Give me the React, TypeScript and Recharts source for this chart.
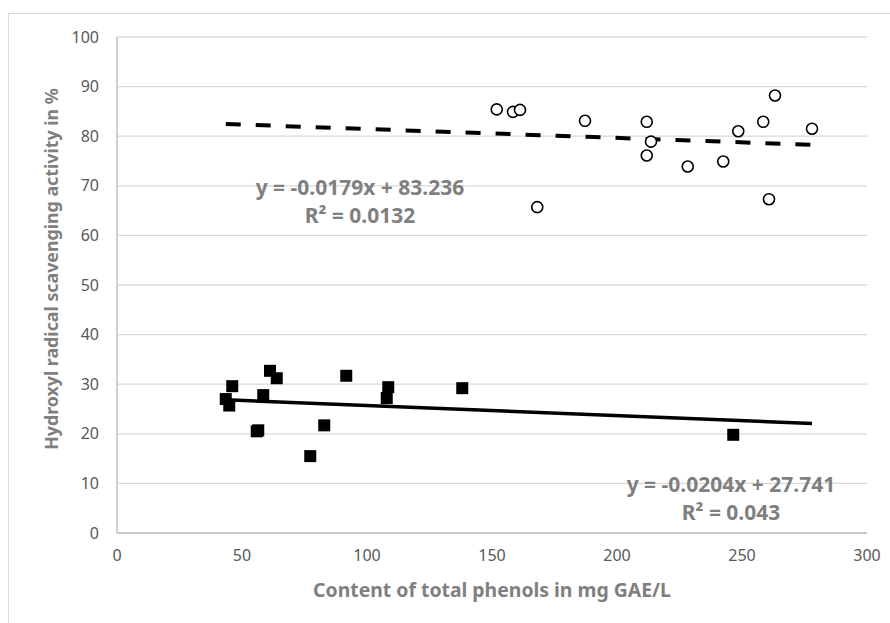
import React from 'react'
import { ScatterChart, Scatter, XAxis, YAxis, CartesianGrid } from 'recharts'

// Upper series (open circles): total phenols vs OH radical scavenging, %
const upperX = [151.9, 158.4, 161.2, 187.2, 211.9, 213.6, 211.9, 228.3, 242.5, 248.5, 258.5, 263.2, 278, 168.1, 260.8]
const upperY = [85.4, 84.9, 85.3, 83.1, 82.9, 78.9, 76.1, 73.9, 74.9, 81.0, 82.9, 88.2, 81.5, 65.7, 67.3]

// Lower series (filled squares)
const lowerX = [43.5, 44.9, 46.1, 55.9, 56.5, 58.5, 61.2, 63.9, 77.3, 82.9, 91.7, 107.9, 108.5, 138.1, 246.5]
const lowerY = [27.0, 25.7, 29.6, 20.5, 20.7, 27.8, 32.7, 31.2, 15.5, 21.7, 31.7, 27.2, 29.4, 29.2, 19.8]

// trendline end points as drawn
const upperTrend = [
  { x: 43.5, y: 82.46 },
  { x: 278, y: 78.26 },
]
const lowerTrend = [
  { x: 43.5, y: 26.85 },
  { x: 278, y: 22.07 },
]

const xTicks = [0, 50, 100, 150, 200, 250, 300]
const yTicks = [0, 10, 20, 30, 40, 50, 60, 70, 80, 90, 100]

const upperData = upperX.map((x, i) => ({ x, y: upperY[i] }))
const lowerData = lowerX.map((x, i) => ({ x, y: lowerY[i] }))

const FONT = '"Noto Sans", "Open Sans", sans-serif'
const TICK = { fill: '#595959', fontSize: 16, fontFamily: FONT }
const TITLE_COLOR = '#7f7f7f'

const OpenCircle = (props: any) => (
  <circle cx={props.cx} cy={props.cy} r={5.5} fill="#fff" stroke="#000" strokeWidth={1.6} />
)

const Square = (props: any) => (
  <rect x={props.cx - 6} y={props.cy - 6} width={12} height={12} fill="#000" />
)

const NoDot = () => <g />

const eqStyle = {
  textAnchor: 'middle' as const,
  fill: TITLE_COLOR,
  fontFamily: FONT,
  fontWeight: 'bold',
  fontSize: 21,
}

export default function App() {
  return (
    <div
      style={{
        position: 'absolute',
        left: 8,
        top: 13,
        width: 900,
        height: 640,
        border: '1px solid #d9d9d9',
        background: '#fff',
      }}
    >
      <ScatterChart width={880} height={609} margin={{ top: 23, right: 22, left: 48, bottom: 30 }}>
        <CartesianGrid vertical={false} stroke="#d9d9d9" strokeWidth={1.3} />
        <XAxis
          type="number"
          dataKey="x"
          domain={[0, 300]}
          ticks={xTicks}
          height={60}
          tickLine={false}
          tickSize={8}
          tickMargin={9}
          axisLine={{ stroke: '#bfbfbf', strokeWidth: 1.5 }}
          tick={TICK}
          label={{
            content: (p: any) => (
              <text
                x={p.viewBox.x + p.viewBox.width / 2}
                y={583}
                textAnchor="middle"
                fill={TITLE_COLOR}
                fontFamily={FONT}
                fontWeight="bold"
                fontSize={19.4}
              >
                Content of total phenols in mg GAE/L
              </text>
            ),
          }}
        />
        <YAxis
          type="number"
          dataKey="y"
          domain={[0, 100]}
          ticks={yTicks}
          width={60}
          tickLine={false}
          tickSize={10}
          tickMargin={8}
          axisLine={{ stroke: '#bfbfbf', strokeWidth: 1.5 }}
          tick={TICK}
          label={{
            content: () => (
              <text
                x={49}
                y={255}
                transform="rotate(-90, 49, 255)"
                textAnchor="middle"
                fill={TITLE_COLOR}
                fontFamily={FONT}
                fontWeight="bold"
                fontSize={17.8}
              >
                Hydroxyl radical scavenging activity in %
              </text>
            ),
          }}
        />
        <Scatter
          data={upperTrend}
          line={{ stroke: '#000', strokeWidth: 4, strokeDasharray: '15 15' }}
          shape={NoDot}
          isAnimationActive={false}
        />
        <Scatter
          data={lowerTrend}
          line={{ stroke: '#000', strokeWidth: 3.5 }}
          shape={NoDot}
          isAnimationActive={false}
        />
        <Scatter data={upperData} shape={OpenCircle} isAnimationActive={false} />
        <Scatter data={lowerData} shape={Square} isAnimationActive={false} />
        <text x={351} y={181} {...eqStyle}>
          y = -0.0179x + 83.236
        </text>
        <text x={351} y={209} {...eqStyle}>
          R² = 0.0132
        </text>
        <text x={722} y={478} {...eqStyle}>
          y = -0.0204x + 27.741
        </text>
        <text x={722} y={506} {...eqStyle}>
          R² = 0.043
        </text>
      </ScatterChart>
    </div>
  )
}
